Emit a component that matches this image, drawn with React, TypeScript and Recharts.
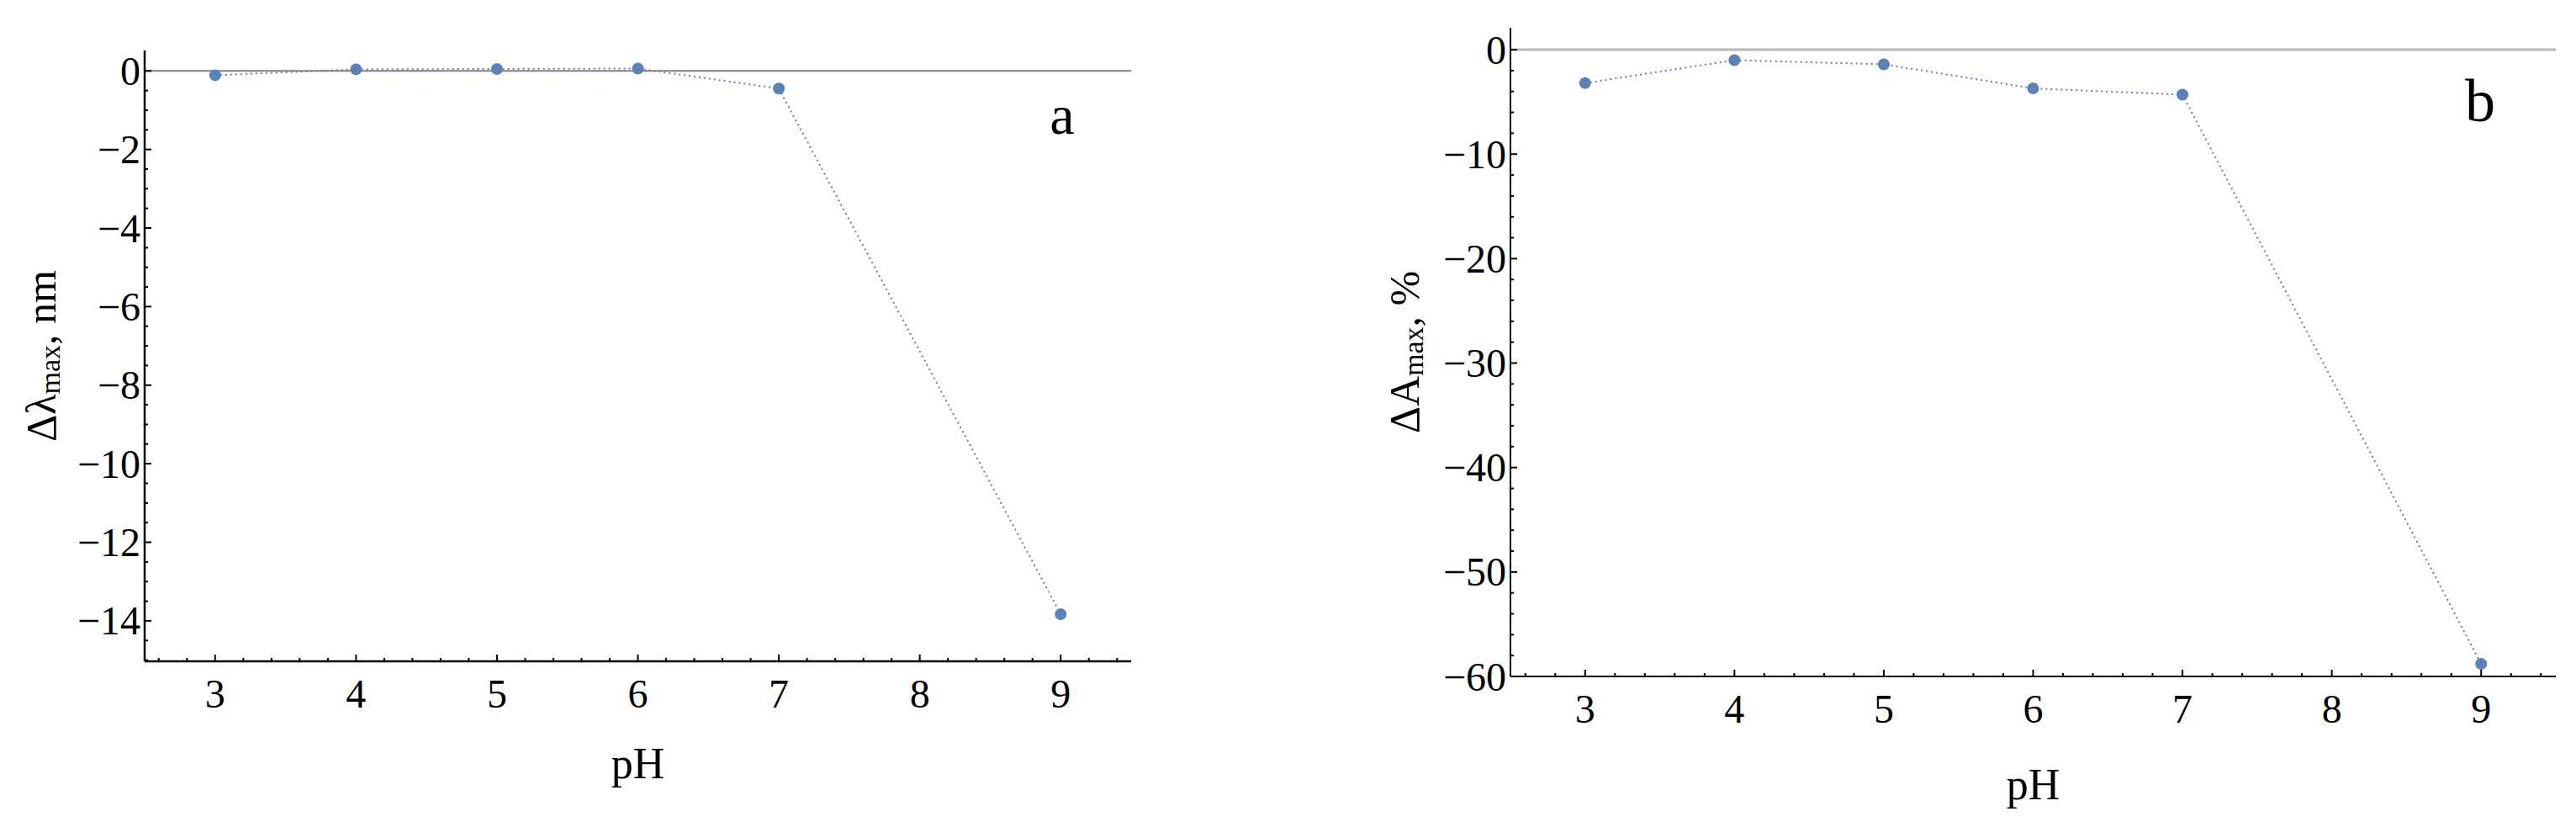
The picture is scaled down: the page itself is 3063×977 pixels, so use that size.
import React from "react";
import { Line, LineChart, ReferenceLine, XAxis, YAxis } from "recharts";

// values
const pH = [3, 4, 5, 6, 7, 9];
const shiftLambda = [-0.11, 0.04, 0.05, 0.06, -0.45, -13.83];
const shiftAbs = [-3.2, -1.0, -1.4, -3.7, -4.3, -58.8];

const xLabels = [3, 4, 5, 6, 7, 8, 9];
const yLabelsA = [0, -2, -4, -6, -8, -10, -12, -14];
const yLabelsB = [0, -10, -20, -30, -40, -50, -60];

const FONT = '"Liberation Serif", "DejaVu Serif", serif';
const BLUE = "#5e81b5";

const steps = (from: number, to: number, step: number) => {
  const out: number[] = [];
  const n = Math.round((to - from) / step);
  for (let i = 0; i <= n; i++) out.push(Math.round((from + i * step) * 100) / 100);
  return out;
};

const fmt = (v: number) => (v < 0 ? "\u2212" + Math.abs(v) : String(v));

function XTick(props: any) {
  const { x, y, payload, majors } = props;
  const v = payload.value;
  const major = majors.includes(v);
  return (
    <g>
      <line x1={x} x2={x} y1={y} y2={y - (major ? 8 : 4)} stroke="#000" strokeWidth={2} />
      {major && (
        <text x={x} y={y + 38} textAnchor="middle" dominantBaseline="central" fontFamily={FONT} fontSize={48} fill="#000">
          {fmt(v)}
        </text>
      )}
    </g>
  );
}

function YTick(props: any) {
  const { x, y, payload, majors } = props;
  const v = payload.value;
  const major = majors.includes(v);
  return (
    <g>
      <line x1={x} x2={x + (major ? 8 : 4)} y1={y} y2={y} stroke="#000" strokeWidth={2} />
      {major && (
        <text x={x - 5} y={y} textAnchor="end" dominantBaseline="central" fontFamily={FONT} fontSize={48} fill="#000">
          {fmt(v)}
        </text>
      )}
    </g>
  );
}

function YTitle(props: any) {
  const { viewBox, main, unit, dx } = props;
  const cx = viewBox.x + dx;
  const cy = viewBox.y + viewBox.height / 2;
  return (
    <text x={cx} y={cy} transform={`rotate(-90 ${cx} ${cy})`} textAnchor="middle" dominantBaseline="central" fontFamily={FONT} fontSize={50} fill="#000">
      {main}
      <tspan fontSize={34} dy={10}>max</tspan>
      <tspan dy={-10}>, {unit}</tspan>
    </text>
  );
}

function XTitle(props: any) {
  const { viewBox, dy } = props;
  return (
    <text x={viewBox.x + viewBox.width / 2} y={viewBox.y + dy} textAnchor="middle" dominantBaseline="central" fontFamily={FONT} fontSize={52} fill="#000">
      pH
    </text>
  );
}

function Panel(props: any) {
  const { values, yDomain, yMajors, yMinorStep, title, unit, width, margin, titleDx, pHDy, zeroStroke, zeroWidth, axisWidth } = props;
  const data = pH.map((p, i) => ({ pH: p, value: values[i] }));
  const xTicks = steps(2.6, 9.4, 0.2);
  const yTicks = steps(Math.ceil(yDomain[0] / yMinorStep) * yMinorStep, 0, yMinorStep);
  return (
    <LineChart width={width} height={977} data={data} margin={margin}>
      <XAxis
        dataKey="pH"
        type="number"
        domain={[2.5, 9.5]}
        allowDataOverflow
        ticks={xTicks}
        interval={0}
        tickSize={0}
        tickMargin={0}
        height={100}
        axisLine={{ stroke: "#000", strokeWidth: axisWidth }}
        tickLine={false}
        tick={(p: any) => <XTick {...p} majors={xLabels} />}
        label={<XTitle dy={pHDy} />}
      />
      <YAxis
        type="number"
        domain={yDomain}
        allowDataOverflow
        ticks={yTicks}
        interval={0}
        tickSize={0}
        tickMargin={0}
        width={172}
        axisLine={{ stroke: "#000", strokeWidth: axisWidth }}
        tickLine={false}
        tick={(p: any) => <YTick {...p} majors={yMajors} />}
        label={<YTitle main={title} unit={unit} dx={titleDx} />}
      />
      <ReferenceLine y={0} stroke={zeroStroke} strokeWidth={zeroWidth} ifOverflow="extendDomain" />
      <Line
        type="linear"
        dataKey="value"
        stroke="#667ca6"
        strokeWidth={2}
        strokeDasharray="2 4"
        dot={{ r: 7, fill: BLUE, stroke: BLUE, strokeWidth: 0 }}
        activeDot={false}
        isAnimationActive={false}
      />
    </LineChart>
  );
}

export default function App() {
  return (
    <div style={{ position: "absolute", left: 0, top: 0, width: 3063, height: 977, background: "#fff" }}>
      <div style={{ position: "absolute", left: 0, top: 0 }}>
        <Panel
          values={shiftLambda}
          yDomain={[-15.03, 0.52]}
          yMajors={yLabelsA}
          yMinorStep={0.5}
          title={"\u0394\u03bb"}
          unit="nm"
          width={1500}
          margin={{ top: 60, right: 155, bottom: 91, left: 0 }}
          titleDx={49}
          pHDy={121}
          zeroStroke="#808080"
          zeroWidth={2}
          axisWidth={2.5}
        />
      </div>
      <div style={{ position: "absolute", left: 1624, top: 0 }}>
        <Panel
          values={shiftAbs}
          yDomain={[-60, 2.1]}
          yMajors={yLabelsB}
          yMinorStep={2}
          title={"\u0394A"}
          unit="%"
          width={1439}
          margin={{ top: 33, right: 24, bottom: 73, left: 0 }}
          titleDx={46}
          pHDy={128}
          zeroStroke="#b8b8b8"
          zeroWidth={3}
          axisWidth={2}
        />
      </div>
      <svg width={3063} height={977} style={{ position: "absolute", left: 0, top: 0, pointerEvents: "none" }}>
        <text x={1263} y={159} textAnchor="middle" fontFamily={FONT} fontSize={66} fill="#000">a</text>
        <text x={2949} y={144} textAnchor="middle" fontFamily={FONT} fontSize={72} fill="#000">b</text>
      </svg>
    </div>
  );
}
